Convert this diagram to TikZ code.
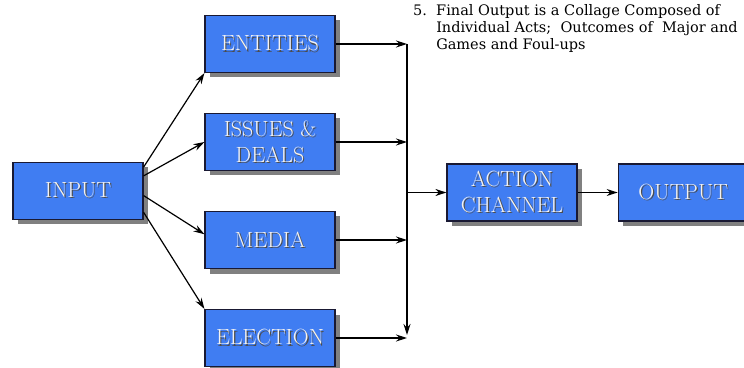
\documentclass[tikz,border=0pt]{standalone}
\usepackage{fontspec}
\usepackage{tikz}
\usetikzlibrary{positioning,shadows,arrows.meta,calc}
\newfontfamily\notefont{DejaVu Serif}
\definecolor{boxblu}{rgb}{0.25, 0.49, 0.95}
\definecolor{boxline}{rgb}{0.1, 0.1, 0.2}
\definecolor{shadowgray}{rgb}{0.5, 0.5, 0.5}
\newcommand{\emb}[1]{\rlap{\hspace{1.2pt}\raisebox{-1.2pt}{\textcolor{black!70}{#1}}}#1}

\begin{document}
\begin{tikzpicture}[x=1pt, y=1pt,
					box/.style = {shape=rectangle, draw=boxline, line width=1.2pt,
						fill=boxblu, align=center, text=white!90!gray,
						minimum width=130pt, minimum height=57pt, inner sep=2pt,
						font=\fontsize{22}{26}\selectfont,
						drop shadow={shadow xshift=5pt, shadow yshift=-5pt,
							fill=shadowgray, opacity=1}},
					arr/.style = {-{Stealth[length=11pt, width=7pt]}, line width=1.2pt},
					grow'=right, level distance=192pt, sibling distance=98pt,
					edge from parent/.style={draw=none}]
	\path[use as bounding box, clip] (0,0) rectangle (744,367);
	\node[box] (input) at (78,176) {\emb{INPUT}}
		child { node[box] (entities) {\emb{ENTITIES}} }
		child { node[box] (issues) {\emb{ISSUES \&}\\\emb{DEALS}} }
		child { node[box] (media) {\emb{MEDIA}} }
		child { node[box] (election) {\emb{ELECTION}} };
	\node[box] (action) at (512,174.5) {\emb{ACTION}\\\emb{CHANNEL}};
	\node[box, right=40pt of action] (output) {\emb{OUTPUT}};
	\node[anchor=north west, align=left, inner sep=0pt,
		font=\notefont\fontsize{14.5}{17}\selectfont] (note) at (413,364)
		{\begin{tabular}{@{}l@{\ \ }l@{}}
			5. & Final Output is a Collage Composed of\\
			   & Individual Acts;\ \ Outcomes of\ \ Major and\\
			   & Games and Foul-ups
		\end{tabular}};
	% the line that collects everything
	\coordinate (busx) at (407,0);
	\coordinate (bustop) at (entities.east -| busx);
	\coordinate (busbot) at ($(election.east -| busx)+(0,3)$);
	\draw[arr] (input.20) -- (entities.south west);
	\draw[arr] (input.13) -- (issues.west);
	\draw[arr] (input.-4) -- (media.175);
	\draw[arr] (input.-18) -- (election.north west);
	\draw[arr] (entities.east) -- (bustop);
	\draw[arr] (issues.east) -- (issues.east -| busx);
	\draw[arr] (media.east) -- (media.east -| busx);
	\draw[arr] (election.east) -- (election.east -| busx);
	\draw[arr] (bustop) -- (busbot);
	\draw[arr] (action.west -| busx) -- (action.west);
	\draw[arr] (action) -- (output);
\end{tikzpicture}
\end{document}
